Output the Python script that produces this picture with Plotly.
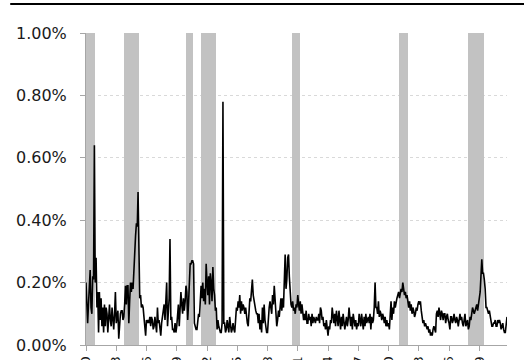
import pandas as pd
import plotly.graph_objects as go

# Monthly values (percent), Jan 1970 onward
y1970 = [0.20, 0.14, 0.07, 0.13, 0.18, 0.24, 0.12, 0.10, 0.22, 0.21, 0.64, 0.20]
y1971 = [0.28, 0.12, 0.17, 0.04, 0.17, 0.08, 0.15, 0.06, 0.12, 0.04, 0.13, 0.06]
y1972 = [0.12, 0.10, 0.04, 0.09, 0.13, 0.08, 0.06, 0.12, 0.09, 0.05, 0.10, 0.17]
y1973 = [0.07, 0.10, 0.11, 0.02, 0.08, 0.10, 0.11, 0.11, 0.08, 0.09, 0.13, 0.19]
y1974 = [0.13, 0.19, 0.19, 0.07, 0.14, 0.20, 0.17, 0.20, 0.18, 0.26, 0.30, 0.35]
y1975 = [0.39, 0.38, 0.49, 0.30, 0.15, 0.16, 0.12, 0.13, 0.12, 0.09, 0.06, 0.03]
y1976 = [0.08, 0.07, 0.08, 0.07, 0.09, 0.06, 0.09, 0.08, 0.05, 0.06, 0.09, 0.05]
y1977 = [0.04, 0.12, 0.07, 0.08, 0.05, 0.03, 0.07, 0.09, 0.10, 0.13, 0.08, 0.16]
y1978 = [0.20, 0.06, 0.09, 0.15, 0.34, 0.08, 0.09, 0.05, 0.05, 0.04, 0.07, 0.04]
y1979 = [0.06, 0.09, 0.13, 0.06, 0.10, 0.17, 0.13, 0.10, 0.15, 0.11, 0.14, 0.19]
y1980 = [0.17, 0.08, 0.13, 0.20, 0.26, 0.26, 0.27, 0.27, 0.26, 0.07, 0.06, 0.05]
y1981 = [0.05, 0.07, 0.10, 0.09, 0.15, 0.19, 0.15, 0.20, 0.14, 0.18, 0.13, 0.26]
y1982 = [0.20, 0.16, 0.22, 0.13, 0.23, 0.20, 0.14, 0.25, 0.18, 0.16, 0.11, 0.12]
y1983 = [0.05, 0.08, 0.06, 0.05, 0.04, 0.04, 0.07, 0.78, 0.07, 0.07, 0.04, 0.05]
y1984 = [0.08, 0.06, 0.04, 0.09, 0.05, 0.04, 0.05, 0.07, 0.05, 0.04, 0.08, 0.12]
y1985 = [0.11, 0.14, 0.12, 0.16, 0.10, 0.14, 0.11, 0.13, 0.12, 0.10, 0.12, 0.09]
y1986 = [0.07, 0.06, 0.12, 0.15, 0.14, 0.17, 0.21, 0.16, 0.14, 0.12, 0.11, 0.10]
y1987 = [0.10, 0.07, 0.10, 0.05, 0.08, 0.04, 0.12, 0.07, 0.13, 0.08, 0.05, 0.04]
y1988 = [0.04, 0.09, 0.12, 0.14, 0.11, 0.10, 0.16, 0.13, 0.19, 0.14, 0.08, 0.06]
y1989 = [0.08, 0.11, 0.09, 0.12, 0.15, 0.11, 0.15, 0.12, 0.18, 0.29, 0.18, 0.21]
y1990 = [0.28, 0.29, 0.22, 0.15, 0.13, 0.12, 0.14, 0.11, 0.12, 0.10, 0.13, 0.12]
y1991 = [0.16, 0.13, 0.11, 0.14, 0.10, 0.13, 0.09, 0.08, 0.10, 0.08, 0.11, 0.07]
y1992 = [0.07, 0.10, 0.08, 0.09, 0.06, 0.10, 0.07, 0.09, 0.08, 0.07, 0.09, 0.08]
y1993 = [0.08, 0.10, 0.07, 0.12, 0.11, 0.08, 0.09, 0.06, 0.07, 0.05, 0.08, 0.04]
y1994 = [0.03, 0.06, 0.05, 0.08, 0.07, 0.12, 0.09, 0.07, 0.10, 0.06, 0.11, 0.08]
y1995 = [0.06, 0.11, 0.07, 0.05, 0.09, 0.06, 0.10, 0.08, 0.05, 0.07, 0.09, 0.06]
y1996 = [0.08, 0.12, 0.07, 0.06, 0.09, 0.05, 0.10, 0.07, 0.06, 0.08, 0.05, 0.07]
y1997 = [0.06, 0.10, 0.08, 0.06, 0.10, 0.07, 0.05, 0.09, 0.06, 0.10, 0.07, 0.08]
y1998 = [0.09, 0.07, 0.10, 0.05, 0.09, 0.07, 0.08, 0.12, 0.20, 0.12, 0.12, 0.10]
y1999 = [0.14, 0.09, 0.11, 0.10, 0.08, 0.10, 0.09, 0.07, 0.09, 0.06, 0.08, 0.06]
y2000 = [0.07, 0.05, 0.10, 0.14, 0.08, 0.12, 0.10, 0.14, 0.12, 0.14, 0.15, 0.16]
y2001 = [0.17, 0.15, 0.16, 0.18, 0.17, 0.20, 0.18, 0.16, 0.17, 0.15, 0.16, 0.14]
y2002 = [0.12, 0.14, 0.11, 0.13, 0.10, 0.12, 0.11, 0.09, 0.10, 0.12, 0.11, 0.13]
y2003 = [0.14, 0.13, 0.14, 0.11, 0.09, 0.07, 0.08, 0.06, 0.07, 0.06, 0.05, 0.06]
y2004 = [0.04, 0.05, 0.03, 0.04, 0.03, 0.05, 0.06, 0.05, 0.04, 0.10, 0.11, 0.09]
y2005 = [0.12, 0.10, 0.08, 0.11, 0.10, 0.08, 0.10, 0.10, 0.07, 0.09, 0.10, 0.08]
y2006 = [0.07, 0.05, 0.09, 0.09, 0.07, 0.08, 0.10, 0.08, 0.07, 0.09, 0.08, 0.06]
y2007 = [0.09, 0.10, 0.08, 0.09, 0.07, 0.06, 0.08, 0.10, 0.06, 0.07, 0.08, 0.05]
y2008 = [0.06, 0.09, 0.08, 0.10, 0.12, 0.11, 0.10, 0.11, 0.12, 0.13, 0.11, 0.13]
y2009 = [0.14, 0.17, 0.22, 0.275, 0.23, 0.23, 0.21, 0.18, 0.12, 0.12, 0.11, 0.10]
y2010 = [0.11, 0.09, 0.08, 0.06, 0.06, 0.07, 0.07, 0.08, 0.06, 0.06, 0.08, 0.07]
y2011 = [0.08, 0.07, 0.05, 0.06, 0.07, 0.05, 0.04, 0.04, 0.06, 0.09]

years = [y1970, y1971, y1972, y1973, y1974, y1975, y1976, y1977, y1978, y1979,
         y1980, y1981, y1982, y1983, y1984, y1985, y1986, y1987, y1988, y1989,
         y1990, y1991, y1992, y1993, y1994, y1995, y1996, y1997, y1998, y1999,
         y2000, y2001, y2002, y2003, y2004, y2005, y2006, y2007, y2008, y2009,
         y2010, y2011]
values = [v for yr in years for v in yr]
dates = pd.date_range("1970-01-01", periods=len(values), freq="MS")

# Recession periods (shaded months)
rec_start = ["1970-01-01", "1973-11-01", "1980-01-01", "1981-07-01", "1990-07-01", "2001-03-01", "2007-12-01"]
rec_end = ["1970-11-01", "1975-03-01", "1980-07-01", "1982-11-01", "1991-03-01", "2001-11-01", "2009-06-01"]
rec_months = []
for s, e in zip(rec_start, rec_end):
    rec_months.extend(pd.date_range(s, e, freq="MS"))

y_ticks = [0.0, 0.2, 0.4, 0.6, 0.8, 1.0]
y_labels = [f"{t:.2f}%" for t in y_ticks]

FONT = "DejaVu Sans"
month_ms = 30.44 * 24 * 3600 * 1000

fig = go.Figure()
fig.add_trace(go.Bar(
    x=rec_months, y=[1.0] * len(rec_months),
    width=[0.8 * month_ms] * len(rec_months),
    marker=dict(color="#c2c2c2", line=dict(width=0)),
    hoverinfo="skip", showlegend=False,
))
fig.add_trace(go.Scatter(
    x=dates, y=values, mode="lines",
    line=dict(color="#000000", width=1.6),
    showlegend=False,
))

fig.update_layout(
    width=524, height=360,
    margin=dict(l=86, r=17, t=33, b=15),
    paper_bgcolor="white", plot_bgcolor="white",
    font=dict(family=FONT, color="#1a1a1a"),
    bargap=0,
    shapes=[dict(type="line", xref="paper", yref="paper",
                 x0=-0.18, x1=1.05, y0=1.093, y1=1.093,
                 line=dict(color="black", width=2.2))],
)
fig.update_xaxes(
    type="date", automargin=False,
    range=[dates[0], dates[-1]],
    tick0="1970-01-01", dtick="M36", tickformat="%Y",
    tickangle=-90,
    ticks="outside", ticklen=5, tickcolor="#a6a6a6",
    showline=True, linecolor="#a6a6a6", linewidth=1,
    showgrid=False, zeroline=False,
    tickfont=dict(family=FONT, size=13, color="#1a1a1a"),
)
fig.update_yaxes(
    range=[0, 1.0], automargin=False,
    tickvals=y_ticks, ticktext=y_labels,
    ticks="outside", ticklen=5, tickcolor="#a6a6a6",
    showline=True, linecolor="#a6a6a6", linewidth=1,
    showgrid=True, gridcolor="#d9d9d9", griddash="dot", gridwidth=1,
    zeroline=False,
    ticklabelstandoff=10,
    tickfont=dict(family=FONT, size=16, color="#1a1a1a"),
)

fig.write_html(
    "out.html",
    config={"displayModeBar": False},
    post_script="document.body.style.margin='0';document.body.style.padding='0';",
)
